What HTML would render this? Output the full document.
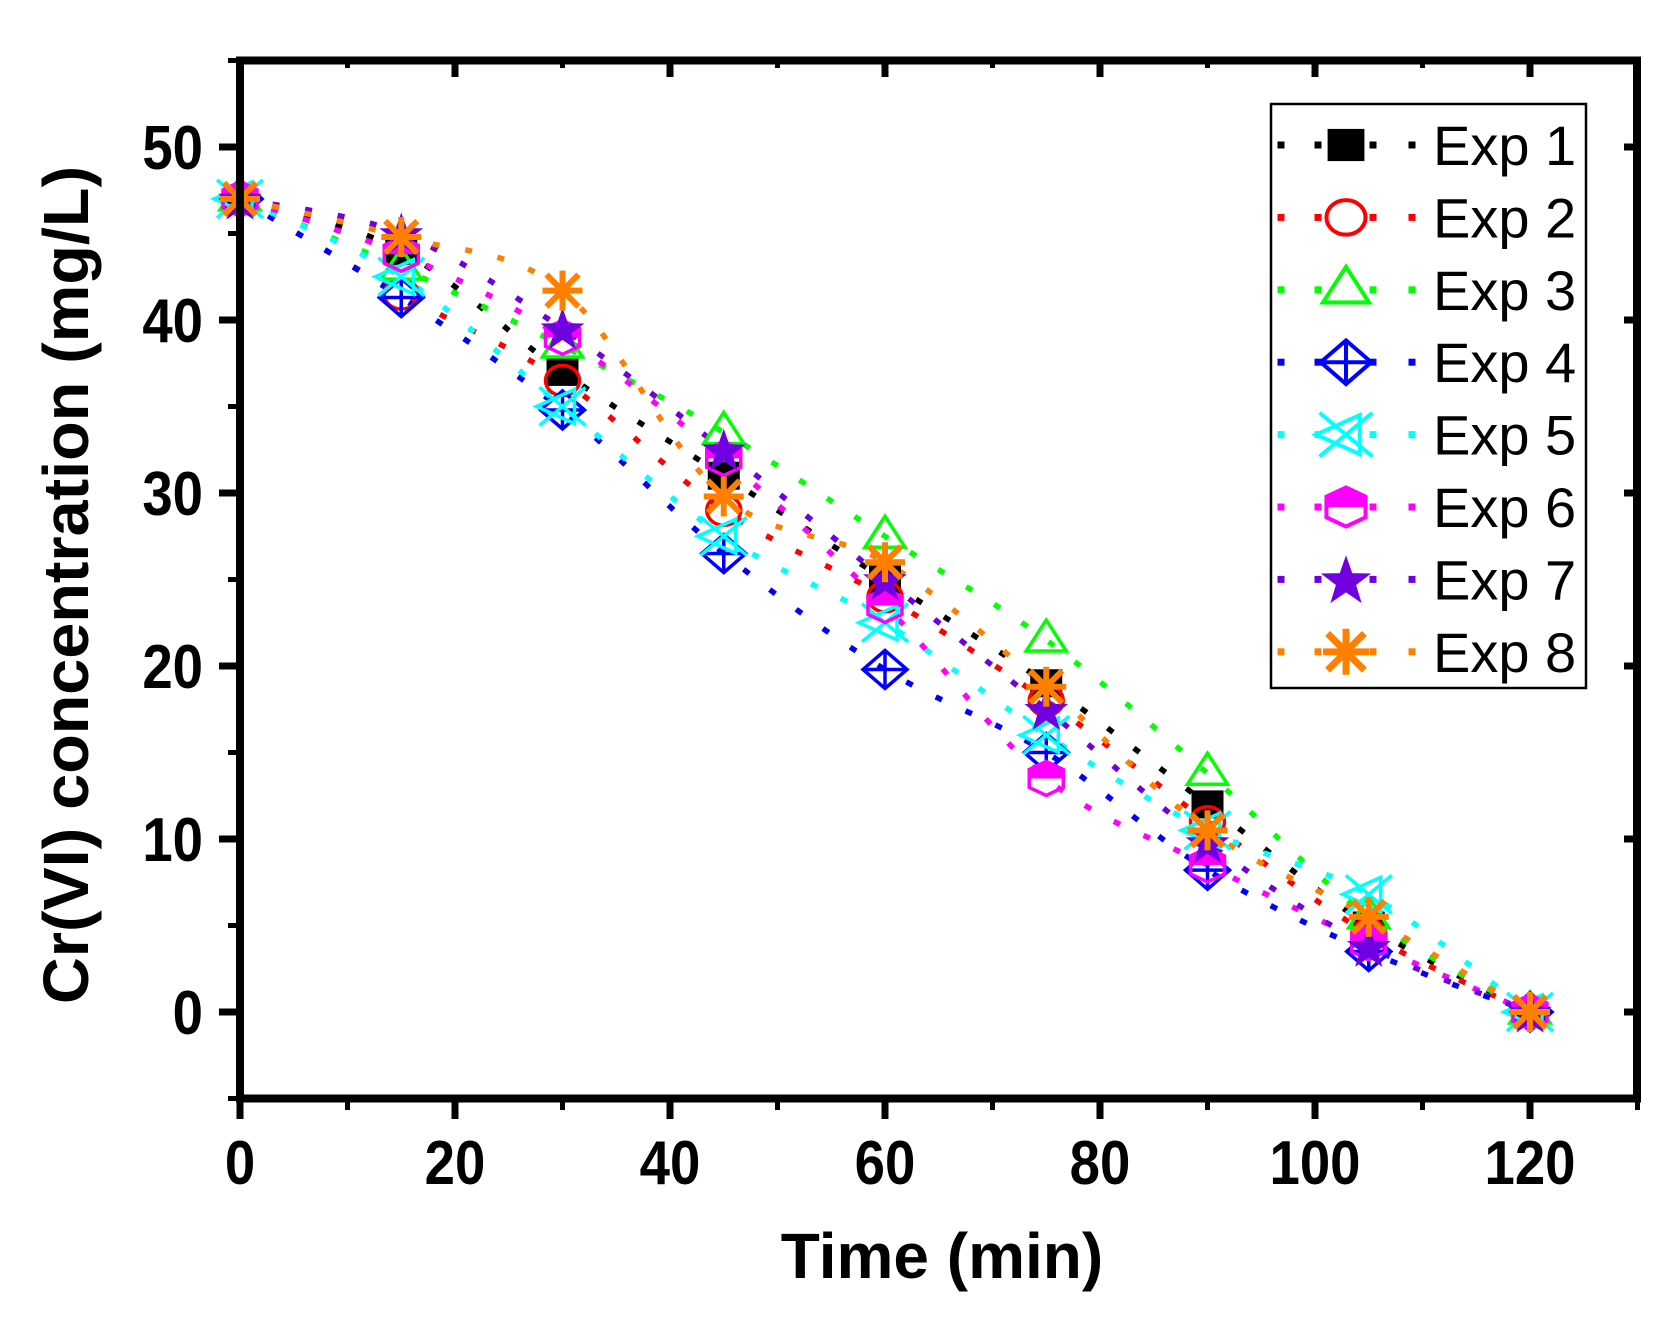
<!DOCTYPE html>
<html><head><meta charset="utf-8"><style>
html,body{margin:0;padding:0;background:#fff;}
svg{display:block;}
text{font-family:"Liberation Sans",Arial,sans-serif;}
</style></head><body>
<svg id="s" width="1676" height="1327" viewBox="0 0 1676 1327" xmlns="http://www.w3.org/2000/svg">
<rect width="1676" height="1327" fill="#fff"/>
<g id="data"></g>
<g id="axes"></g>
<text x="942" y="1278" font-size="64" font-weight="bold" text-anchor="middle">Time (min)</text>
<text transform="translate(88,585) rotate(-90)" font-size="64" font-weight="bold" text-anchor="middle" textLength="838" lengthAdjust="spacingAndGlyphs">Cr(VI) concentration (mg/L)</text>
<rect x="1271" y="104" width="315" height="584" fill="#fff" stroke="#000" stroke-width="2.5"/>
<g id="leg"></g>
</svg>
<script>
const NS="http://www.w3.org/2000/svg";
function el(p,t,a,txt){const e=document.createElementNS(NS,t);for(const k in a)e.setAttribute(k,a[k]);if(txt!==undefined)e.textContent=txt;p.appendChild(e);return e;}
const X=t=>240+t*10.75, Y=v=>1012-v*17.3;
const ax=document.getElementById('axes');
el(ax,'rect',{x:240,y:60.5,width:1397,height:1038,fill:'none',stroke:'#000','stroke-width':8});
for(let t=0;t<=130;t+=10){const x=X(t),maj=t%20==0;
 el(ax,'line',{x1:x,y1:1102,x2:x,y2:1102+(maj?17:8),stroke:'#000','stroke-width':maj?7:5});
 el(ax,'line',{x1:x,y1:60,x2:x,y2:60+(maj?17:8),stroke:'#000','stroke-width':maj?7:5});
 if(maj&&t<=120)el(ax,'text',{transform:`translate(${x},1184) scale(0.88,1)`,'font-size':62,'font-weight':'bold','text-anchor':'middle'},String(t));}
for(let v=-5;v<=55;v+=5){const y=Y(v),maj=v%10==0;
 el(ax,'line',{x1:236,y1:y,x2:236-(maj?17:8),y2:y,stroke:'#000','stroke-width':maj?7:5});
 el(ax,'line',{x1:1641,y1:y,x2:1641-(maj?17:8),y2:y,stroke:'#000','stroke-width':maj?7:5});
 if(maj&&v>=0&&v<=50)el(ax,'text',{transform:`translate(203,${y+22}) scale(0.88,1)`,'font-size':62,'font-weight':'bold','text-anchor':'end'},String(v));}
const T=[0,15,30,45,60,75,90,105,120];
const S=[
 {c:'#000',m:'sq',d:[47,44,37,31,25,19,12,5,0]},
 {c:'#f00',m:'ci',d:[47,41.5,36.5,29,24,18,11,4.5,0]},
 {c:'#0f0',m:'tr',d:[47,43,38.5,33.5,27.5,21.5,13.8,5.5,0]},
 {c:'#00f',m:'di',d:[47,41.3,34.8,26.5,19.8,15,8.2,3.5,0]},
 {c:'#0ff',m:'xx',d:[47,42.5,35,27.5,22.5,16,10.5,6.8,0]},
 {c:'#f0f',m:'hx',d:[47,43.8,39,32,23.5,13.5,8.5,4,0]},
 {c:'#7000e0',m:'st',d:[47,45,39.5,32.5,25,17.5,9.8,3.8,0]},
 {c:'#ff8000',m:'as',d:[47,44.8,41.7,29.8,26,18.8,10.5,5.5,0]}];
function marker(g,m,c,x,y,k){
 k=k||1;const sw=3.5;
 const G=el(g,'g',{transform:`translate(${x},${y}) scale(${k})`});
 if(m=='sq')el(G,'rect',{x:-16,y:-14,width:32,height:28,fill:c});
 else if(m=='ci')el(G,'ellipse',{cx:0,cy:0,rx:17,ry:15,fill:'none',stroke:c,'stroke-width':sw});
 else if(m=='tr')el(G,'polygon',{points:`0,-20 20,11 -20,11`,fill:'none',stroke:c,'stroke-width':sw});
 else if(m=='di'){el(G,'polygon',{points:`0,-19 22,0 0,19 -22,0`,fill:'none',stroke:c,'stroke-width':sw});
  el(G,'path',{d:`M-22 0H22M0 -19V19`,stroke:c,'stroke-width':sw});}
 else if(m=='xx')el(G,'path',{d:`M-23 -19L23 19M-23 19L23 -19M-26 0L12 -17V17Z`,fill:'none',stroke:c,'stroke-width':sw});
 else if(m=='hx'){el(G,'path',{d:`M-17 0V-9L0 -17L17 -9V0Z`,fill:c});
  el(G,'polygon',{points:`0,-17 17,-9 17,9 0,17 -17,9 -17,-9`,fill:'none',stroke:c,'stroke-width':sw});}
 else if(m=='st'){let p=[];for(let i=0;i<10;i++){const a=-Math.PI/2+i*Math.PI/5,r=i%2?8:20;p.push((r*Math.cos(a)).toFixed(1)+','+(2+r*Math.sin(a)).toFixed(1));}
  el(G,'polygon',{points:p.join(' '),fill:c,stroke:c,'stroke-width':2});}
 else if(m=='as')el(G,'path',{d:`M-20 0H20M0 -20V20M-16 -16L16 16M-16 16L16 -16`,stroke:c,'stroke-width':6});
}
const dg=document.getElementById('data');
function spline(pts){let d=`M${pts[0][0]} ${pts[0][1]}`;for(let i=0;i<pts.length-1;i++){const p0=pts[Math.max(0,i-1)],p1=pts[i],p2=pts[i+1],p3=pts[Math.min(pts.length-1,i+2)];
 const c1=[p1[0]+(p2[0]-p0[0])/6,p1[1]+(p2[1]-p0[1])/6],c2=[p2[0]-(p3[0]-p1[0])/6,p2[1]-(p3[1]-p1[1])/6];
 d+=`C${c1[0].toFixed(1)} ${c1[1].toFixed(1)} ${c2[0].toFixed(1)} ${c2[1].toFixed(1)} ${p2[0].toFixed(1)} ${p2[1].toFixed(1)}`;}return d;}
S.forEach(s=>{const pts=T.map((t,i)=>[X(t),Y(s.d[i])]);
 el(dg,'path',{d:spline(pts),fill:'none',stroke:s.c,'stroke-width':5.5,'stroke-dasharray':'7 26'});});
S.forEach(s=>{T.forEach((t,i)=>marker(dg,s.m,s.c,X(t),Y(s.d[i])));});
const lg=document.getElementById('leg');
S.forEach((s,i)=>{const y=145+i*72.4;
 [1281,1318,1373,1412].forEach(x=>el(lg,'rect',{x:x-3.5,y:y-3.5,width:7,height:7,fill:s.c}));
 marker(lg,s.m,s.c,1346,y,1.15);
 el(lg,'text',{x:1433,y:y+20,'font-size':56},'Exp '+(i+1));});
</script>
</body></html>
